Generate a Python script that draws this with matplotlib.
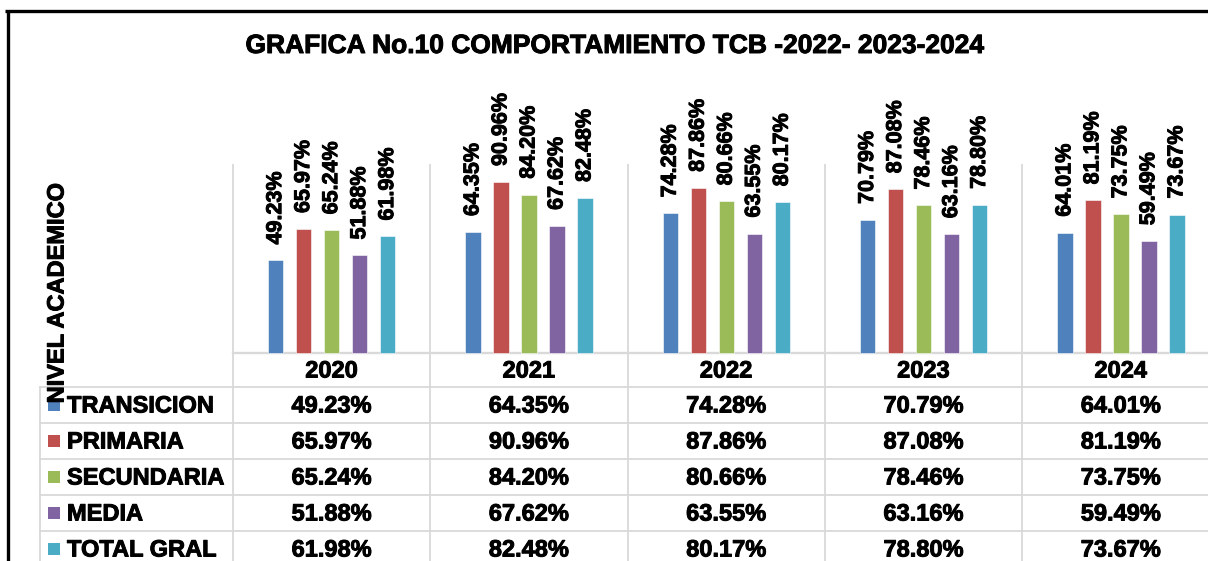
import matplotlib
matplotlib.use('Agg')
import matplotlib.pyplot as plt
from matplotlib.lines import Line2D
from matplotlib.patches import Rectangle
import matplotlib.patheffects as pe
import numpy as np

years = ['2020', '2021', '2022', '2023', '2024']
series = ['TRANSICION', 'PRIMARIA', 'SECUNDARIA', 'MEDIA', 'TOTAL GRAL']
transicion = [49.23, 64.35, 74.28, 70.79, 64.01]
primaria = [65.97, 90.96, 87.86, 87.08, 81.19]
secundaria = [65.24, 84.20, 80.66, 78.46, 73.75]
media = [51.88, 67.62, 63.55, 63.16, 59.49]
total_gral = [61.98, 82.48, 80.17, 78.80, 73.67]
colors = ['#4F81BD', '#C0504D', '#9BBB59', '#8064A2', '#4BACC6']
title = 'GRAFICA No.10 COMPORTAMIENTO TCB -2022- 2023-2024'
ylabel = 'NIVEL ACADEMICO'

values = [transicion, primaria, secundaria, media, total_gral]

plt.rcParams['font.family'] = ['Liberation Sans', 'DejaVu Sans']
plt.rcParams['font.weight'] = 'bold'

W, H = 1208, 561
fig = plt.figure(figsize=(W / 100, H / 100), dpi=100)

heavy = [pe.withStroke(linewidth=0.7, foreground='black')]

# layout (pixels)
x0, cw = 233.0, 197.3
base, top = 353.0, 165.0
row_h = 36.0
first_row = 387.0
tab_left = 40.0
grid_c = '#D9D9D9'
glw = 1.3

# overlay axes in pixel coordinates for the data table and frame
ov = fig.add_axes([0, 0, 1, 1])
ov.set_xlim(0, W)
ov.set_ylim(H, 0)
ov.axis('off')

n = len(years)
for i in range(n + 1):
    ov.add_line(Line2D([x0 + i * cw] * 2, [top, H], color=grid_c, lw=glw))
ov.add_line(Line2D([x0, W], [base, base], color=grid_c, lw=glw + 0.4))
for k in range(len(series)):
    y = first_row + k * row_h
    ov.add_line(Line2D([tab_left, W], [y, y], color=grid_c, lw=glw))
ov.add_line(Line2D([tab_left, tab_left], [first_row, H], color=grid_c, lw=glw))

# header row
for i, yr in enumerate(years):
    ov.text(x0 + (i + 0.5) * cw, (base + first_row) / 2 + 1, yr, ha='center', va='center',
            fontsize=17, fontweight='bold', path_effects=heavy)

# data rows
for k, (name, vals) in enumerate(zip(series, values)):
    yc = first_row + (k + 0.5) * row_h
    ov.add_patch(Rectangle((48, yc - 6), 12, 12, color=colors[k], lw=0))
    ov.text(67, yc + 1, name, ha='left', va='center', fontsize=17, fontweight='bold',
            path_effects=heavy)
    for i, v in enumerate(vals):
        ov.text(x0 + (i + 0.5) * cw, yc + 1, f'{v:.2f}%', ha='center', va='center',
                fontsize=17, fontweight='bold', path_effects=heavy)

# frame
ov.add_line(Line2D([5, W], [11, 11], color='black', lw=2.4, solid_capstyle='butt'))
ov.add_line(Line2D([7.5, 7.5], [10, H], color='black', lw=2.4, solid_capstyle='butt'))

# title and axis label
ov.text(614, 46, title, ha='center', va='center', fontsize=19, fontweight='bold',
        path_effects=heavy)
ov.text(57, 293, ylabel, ha='center', va='center', rotation=90, fontsize=17,
        fontweight='bold', path_effects=heavy)

# bar chart axes
ax = fig.add_axes([x0 / W, (H - base) / H, n * cw / W, (base - top) / H])
ax.set_xlim(0, n)
ax.set_ylim(0, 1)
ax.patch.set_alpha(0)
for s in ax.spines.values():
    s.set_visible(False)
ax.set_xticks([])
ax.set_yticks([])

bw = 15.5 / cw
pitch = 28.0 / cw
xc = np.arange(n) + 0.5
for j, vals in enumerate(values):
    xs = xc + (j - 2) * pitch
    hs = np.array(vals) / 100.0
    bars = ax.bar(xs, hs, width=bw, color=colors[j], edgecolor='white', linewidth=0.4, clip_on=False)
    for b, v in zip(bars, vals):
        ax.annotate(f'{v:.2f}%', (b.get_x() + b.get_width() / 2, b.get_height()),
                    xytext=(0, 11.5), textcoords='offset points', rotation=90,
                    ha='center', va='bottom', fontsize=15.5, fontweight='bold',
                    annotation_clip=False, path_effects=heavy)

fig.savefig('out.png', dpi=100)
